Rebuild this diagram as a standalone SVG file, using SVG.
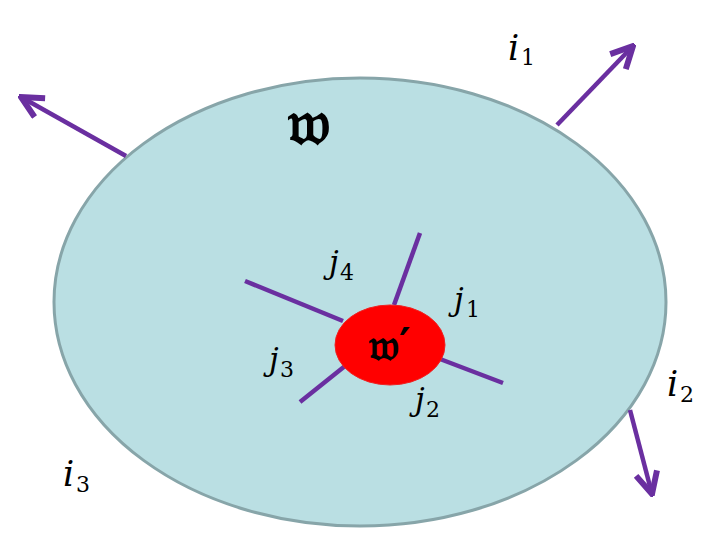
<svg xmlns="http://www.w3.org/2000/svg" width="720" height="540" viewBox="0 0 720 540">
<style>
.ln{stroke:#6a2fa0;stroke-width:4.5;fill:none;stroke-linecap:butt}
.m{font-family:"DejaVu Serif","Liberation Serif",serif;font-style:italic;fill:#000;font-size:31px}
.mi{font-family:"DejaVu Serif","Liberation Serif",serif;font-style:italic;fill:#000;font-size:35px}
.s{font-family:"DejaVu Serif","Liberation Serif",serif;fill:#000;font-size:22px}
.fk{font-family:"DejaVu Sans","DejaVu Serif","Noto Sans",serif;fill:#000;font-weight:bold}
</style>
<defs>
<marker id="ah" viewBox="0 0 10 10" refX="9" refY="5" markerWidth="6" markerHeight="6" orient="auto" markerUnits="strokeWidth">
<path d="M1,1 L9,5 L1,9" fill="none" stroke="#6a2fa0" stroke-width="2.2"/>
</marker>
</defs>
<g id="outer">
<ellipse cx="360" cy="302" rx="306" ry="224" fill="#badfe3" stroke="#87a5a9" stroke-width="3"/>
<text class="fk" x="288" y="144" font-size="62">𝔴</text>
</g>
<g id="connectors">
<line class="ln" x1="557" y1="125" x2="633" y2="46" marker-end="url(#ah)"/>
<line class="ln" x1="630" y1="410" x2="652" y2="494" marker-end="url(#ah)"/>
<line class="ln" x1="126" y1="156" x2="21" y2="97" marker-end="url(#ah)"/>
<line class="ln" x1="420" y1="233" x2="394" y2="305"/>
<line class="ln" x1="245" y1="281" x2="343" y2="321"/>
<line class="ln" x1="300" y1="402" x2="345" y2="366"/>
<line class="ln" x1="440" y1="359" x2="503" y2="383"/>
</g>
<g id="inner">
<ellipse cx="390" cy="345" rx="55" ry="40" fill="#ff0000" stroke="#f02020" stroke-width="1"/>
<text class="fk" x="369" y="360" font-size="44">𝔴′</text>
</g>
<g id="labels">
<text class="mi" x="508" y="60">i</text><text class="s" x="521" y="65">1</text>
<text class="mi" x="667" y="396">i</text><text class="s" x="680" y="402">2</text>
<text class="mi" x="63" y="486">i</text><text class="s" x="76" y="492">3</text>
<text class="m" x="329" y="273">j</text><text class="s" x="340" y="280">4</text>
<text class="m" x="454" y="310">j</text><text class="s" x="466" y="317">1</text>
<text class="m" x="269" y="370">j</text><text class="s" x="280" y="377">3</text>
<text class="m" x="415" y="410">j</text><text class="s" x="426" y="417">2</text>
</g>
</svg>
